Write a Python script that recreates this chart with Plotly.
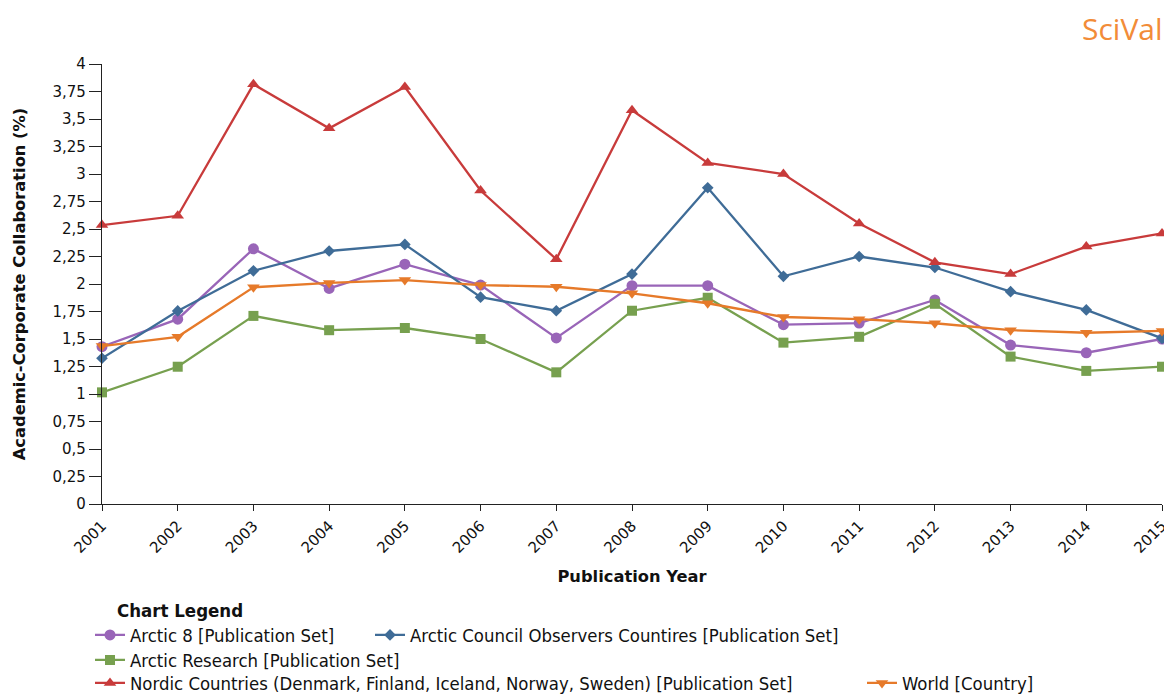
import plotly.graph_objects as go

years = list(range(2001, 2016))
year_labels = [str(y) for y in years]

arctic8 = [1.43, 1.68, 2.32, 1.96, 2.18, 1.99, 1.51, 1.985, 1.985, 1.63, 1.645, 1.855, 1.445, 1.375, 1.50]
observers = [1.325, 1.755, 2.12, 2.30, 2.36, 1.88, 1.757, 2.09, 2.875, 2.07, 2.25, 2.15, 1.93, 1.764, 1.506]
arctic_research = [1.015, 1.248, 1.71, 1.58, 1.60, 1.50, 1.197, 1.757, 1.875, 1.467, 1.52, 1.82, 1.34, 1.21, 1.248]
nordic = [2.536, 2.62, 3.815, 3.415, 3.79, 2.85, 2.225, 3.58, 3.10, 3.00, 2.55, 2.197, 2.09, 2.34, 2.46]
world = [1.436, 1.52, 1.97, 2.01, 2.036, 1.99, 1.975, 1.915, 1.825, 1.70, 1.68, 1.643, 1.58, 1.557, 1.573]

series_names = [
    "Arctic 8 [Publication Set]",
    "Arctic Council Observers Countires [Publication Set]",
    "Arctic Research [Publication Set]",
    "Nordic Countries (Denmark, Finland, Iceland, Norway, Sweden) [Publication Set]",
    "World [Country]",
]

y_tickvals = [0, 0.25, 0.5, 0.75, 1, 1.25, 1.5, 1.75, 2, 2.25, 2.5, 2.75, 3, 3.25, 3.5, 3.75, 4]
y_ticktext = ["0", "0,25", "0,5", "0,75", "1", "1,25", "1,5", "1,75", "2", "2,25", "2,5", "2,75", "3", "3,25", "3,5", "3,75", "4"]

# page body has an 8px margin; figure is sized to fit the window
W, H = 1164, 688
FONT = "DejaVu Sans"
LEGFONT = "DejaVu Sans Condensed, Liberation Sans Narrow, DejaVu Sans"

styles = [
    dict(color="#9965b8", symbol="circle", size=11, legend="legend"),
    dict(color="#3f6c97", symbol="diamond", size=9, legend="legend5"),
    dict(color="#77a04f", symbol="square", size=10, legend="legend2"),
    dict(color="#c83b3b", symbol="triangle-up", size=11, legend="legend3"),
    dict(color="#e67a2a", symbol="triangle-down", size=11, legend="legend4"),
]
data = [arctic8, observers, arctic_research, nordic, world]

fig = go.Figure()
for name, vals, st in zip(series_names, data, styles):
    fig.add_trace(go.Scatter(
        x=years, y=vals, name=name, mode="lines+markers",
        line=dict(color=st["color"], width=2.3),
        marker=dict(color=st["color"], symbol=st["symbol"], size=st["size"]),
        legend=st["legend"], cliponaxis=False,
    ))

def leg(xpx, ypx):
    return dict(
        orientation="h", xref="container", yref="container",
        x=xpx / W, y=1 - ypx / H, xanchor="left", yanchor="middle",
        font=dict(family=LEGFONT, size=18.4, color="#111"),
        itemwidth=30, bgcolor="rgba(0,0,0,0)", tracegroupgap=0,
        traceorder="normal",
    )

PL, PT, PW, PH = 94, 56, 1060, 440

fig.update_layout(
    width=W, height=H,
    margin=dict(l=PL, r=W - PL - PW, t=PT, b=H - PT - PH, autoexpand=False),
    plot_bgcolor="white", paper_bgcolor="white",
    font=dict(family=FONT, size=15, color="#111"),
    showlegend=True,
    legend=leg(82, 627),
    legend5=leg(362, 627),
    legend2=leg(82, 652),
    legend3=leg(82, 675),
    legend4=leg(854, 675),
    xaxis=dict(
        range=[2001, 2015], tickmode="array", tickvals=years, ticktext=year_labels,
        tickangle=-45, ticks="outside", ticklen=6, tickcolor="#222", automargin=False,
        showline=True, linecolor="#222", linewidth=1.2, showgrid=False, zeroline=False,
        tickfont=dict(family=FONT, size=15, color="#111"),
        title=dict(text="<b>Publication Year</b>", font=dict(family=FONT, size=16.3, color="#111"), standoff=14),
    ),
    yaxis=dict(
        range=[0, 4], tickmode="array", tickvals=y_tickvals, ticktext=y_ticktext,
        ticks="outside", ticklen=12, tickcolor="#222", automargin=False,
        showline=True, linecolor="#222", linewidth=1.2, showgrid=False, zeroline=False,
        tickfont=dict(family=FONT, size=15, color="#111"),
        title=dict(text="<b>Academic-Corporate Collaboration (%)</b>", font=dict(family=FONT, size=16.3, color="#111"), standoff=22),
    ),
    annotations=[
        dict(text="<b>Chart Legend</b>", xref="paper", yref="paper",
             x=(115 - 102) / PW, y=(504 - 610) / PH, xanchor="left", yanchor="middle",
             showarrow=False, font=dict(family=LEGFONT, size=18.5, color="#111")),
        dict(text="SciVal", xref="paper", yref="paper",
             x=(1165 - 102) / PW, y=(504 - 29) / PH, xanchor="right", yanchor="middle",
             showarrow=False, font=dict(family="Open Sans", size=30, color="#f28c38")),
    ],
)

fig.write_html("out.html")
